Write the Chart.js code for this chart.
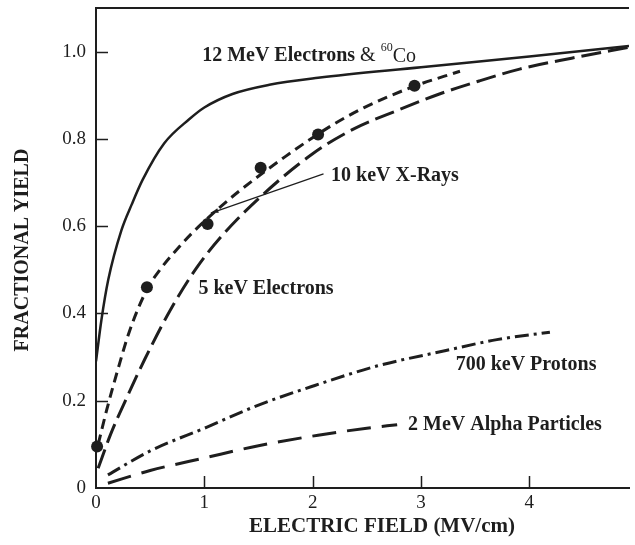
<!DOCTYPE html>
<html>
<head>
<meta charset="utf-8">
<script src="https://cdn.jsdelivr.net/npm/chart.js@4/dist/chart.umd.min.js"></script>
<style>
  html, body { margin: 0; padding: 0; background: #fff; }
  #wrap { width: 635px; height: 545px; }
</style>
</head>
<body>
<div id="wrap"><canvas id="chart" width="635" height="545"></canvas></div>
<script>
// ---- Data ----

const xTicks = [0, 1, 2, 3, 4];
const yTicks = [0, 0.2, 0.4, 0.6, 0.8, 1.0];
const yTickLabels = ['0', '0.2', '0.4', '0.6', '0.8', '1.0'];

// 12 MeV Electrons & 60Co (solid)
const e12X = [0, 0.05, 0.113, 0.235, 0.33, 0.43, 0.63, 0.86, 1.0, 1.26, 1.6, 2.05, 3.0, 4.0, 4.92];
const e12Y = [0.29, 0.385, 0.477, 0.591, 0.65, 0.706, 0.79, 0.845, 0.872, 0.903, 0.924, 0.94, 0.964, 0.989, 1.013];

// 10 keV X-Rays (short dashes)
const xrX = [0.02, 0.1, 0.2, 0.31, 0.47, 0.59, 0.74, 0.89, 1.07, 1.32, 1.75, 2.17, 2.47, 2.93, 3.36];
const xrY = [0.1, 0.18, 0.27, 0.36, 0.455, 0.5, 0.545, 0.585, 0.627, 0.68, 0.76, 0.83, 0.871, 0.92, 0.955];

// 10 keV X-Rays measured points
const xrDotX = [0.01, 0.47, 1.03, 1.52, 2.05, 2.94];
const xrDotY = [0.095, 0.46, 0.605, 0.734, 0.81, 0.922];

// 5 keV Electrons (long dashes)
const e5X = [0.02, 0.13, 0.28, 0.45, 0.68, 0.93, 1.17, 1.53, 2.0, 2.38, 2.77, 3.17, 3.54, 3.91, 4.39, 4.92];
const e5Y = [0.045, 0.12, 0.205, 0.295, 0.405, 0.505, 0.58, 0.67, 0.766, 0.823, 0.864, 0.903, 0.933, 0.96, 0.985, 1.01];

// 700 keV Protons (dash-dot)
const pX = [0.11, 0.5, 1.02, 1.5, 2.02, 2.6, 3.23, 3.7, 4.19];
const pY = [0.03, 0.085, 0.139, 0.19, 0.235, 0.28, 0.315, 0.34, 0.357];

// 2 MeV Alpha Particles (long dashes, wide gaps)
const aX = [0.11, 0.5, 1.02, 1.5, 2.05, 2.5, 2.78];
const aY = [0.011, 0.04, 0.07, 0.097, 0.121, 0.137, 0.145];

// ---- Helpers ----

const INK = '#1e1e1e';
const SERIF = '"Liberation Serif", "DejaVu Serif", serif';

function pts(xs, ys) { return xs.map((x, i) => ({ x, y: ys[i] })); }

function curve(data, dash, width) {
  return {
    data, showLine: true, borderColor: INK, borderWidth: width, borderDash: dash,
    pointRadius: 0, cubicInterpolationMode: 'monotone', fill: false,
  };
}

// Labels placed in data coordinates (left edge, vertical centre)
const curveLabels = [
  { text: '5 keV Electrons', x: 0.945, y: 0.457 },
  { text: '10 keV X-Rays', x: 2.17, y: 0.715 },
  { text: '700 keV Protons', x: 3.32, y: 0.283 },
  { text: '2 MeV Alpha Particles', x: 2.88, y: 0.144 },
];

const decorations = {
  id: 'decorations',
  afterDraw(chart) {
    const { ctx, chartArea: a, scales: { x, y } } = chart;
    ctx.save();
    ctx.strokeStyle = INK;
    ctx.fillStyle = INK;

    // top frame line
    ctx.lineWidth = 2;
    ctx.beginPath();
    ctx.moveTo(a.left - 1, a.top);
    ctx.lineTo(a.right, a.top);
    ctx.stroke();

    // inward tick marks
    ctx.lineWidth = 1.5;
    ctx.beginPath();
    yTicks.forEach(v => {
      if (v === 0) return;
      const py = Math.round(y.getPixelForValue(v)) + 0.5;
      ctx.moveTo(a.left, py);
      ctx.lineTo(a.left + 12, py);
    });
    xTicks.forEach(v => {
      if (v === 0) return;
      const px = Math.round(x.getPixelForValue(v)) + 0.5;
      ctx.moveTo(px, a.bottom);
      ctx.lineTo(px, a.bottom - 12);
    });
    ctx.stroke();

    // curve labels
    ctx.textBaseline = 'middle';
    ctx.textAlign = 'left';
    ctx.font = `bold 20px ${SERIF}`;
    curveLabels.forEach(l => {
      ctx.fillText(l.text, x.getPixelForValue(l.x), y.getPixelForValue(l.y));
    });

    // 12 MeV Electrons & 60Co, with superscript
    let lx = x.getPixelForValue(0.98);
    const ly = y.getPixelForValue(0.99);
    const head = '12 MeV Electrons ';
    ctx.fillText(head, lx, ly);
    lx += ctx.measureText(head).width;
    ctx.font = `20px ${SERIF}`;
    ctx.fillText('& ', lx, ly);
    lx += ctx.measureText('& ').width;
    ctx.font = `12px ${SERIF}`;
    ctx.fillText('60', lx, ly - 8);
    lx += ctx.measureText('60').width;
    ctx.font = `20px ${SERIF}`;
    ctx.fillText('Co', lx, ly + 1);

    // pointer from the X-ray label to its curve
    const x0 = x.getPixelForValue(2.1), y0 = y.getPixelForValue(0.72);
    const x1 = x.getPixelForValue(1.06), y1 = y.getPixelForValue(0.63);
    ctx.lineWidth = 1.2;
    ctx.beginPath();
    ctx.moveTo(x0, y0);
    ctx.lineTo(x1, y1);
    ctx.stroke();
    const ang = Math.atan2(y1 - y0, x1 - x0);
    ctx.beginPath();
    ctx.moveTo(x1, y1);
    ctx.lineTo(x1 - 8 * Math.cos(ang - 0.3), y1 - 8 * Math.sin(ang - 0.3));
    ctx.lineTo(x1 - 8 * Math.cos(ang + 0.3), y1 - 8 * Math.sin(ang + 0.3));
    ctx.closePath();
    ctx.fill();

    // axis titles
    ctx.font = `bold 21px ${SERIF}`;
    ctx.textAlign = 'center';
    ctx.fillText('ELECTRIC FIELD (MV/cm)', 382, 527);
    ctx.save();
    ctx.translate(23, 250);
    ctx.rotate(-Math.PI / 2);
    ctx.font = `bold 20px ${SERIF}`;
    ctx.fillText('FRACTIONAL YIELD', 0, 0);
    ctx.restore();

    ctx.restore();
  },
};

function zeroPad(scale) {
  scale.paddingTop = 0;
  scale.paddingBottom = 0;
  scale.paddingLeft = 0;
  scale.paddingRight = 0;
}

new Chart(document.getElementById('chart'), {
  type: 'scatter',
  data: {
    datasets: [
      curve(pts(e12X, e12Y), [], 2.5),
      curve(pts(xrX, xrY), [10, 6], 3),
      curve(pts(e5X, e5Y), [20, 7], 3),
      curve(pts(pX, pY), [14, 5, 3, 5], 3),
      curve(pts(aX, aY), [24, 11], 3),
      {
        data: pts(xrDotX, xrDotY), showLine: false, clip: false,
        pointRadius: 6, pointBackgroundColor: INK, pointBorderColor: INK, pointBorderWidth: 0,
      },
    ],
  },
  options: {
    responsive: false,
    animation: false,
    events: [],
    layout: { padding: { top: 8, right: 2, left: 0, bottom: 0 } },
    plugins: { legend: { display: false }, tooltip: { enabled: false } },
    scales: {
      x: {
        type: 'linear', min: 0, max: 4.92,
        afterBuildTicks: s => { s.ticks = xTicks.map(v => ({ value: v })); },
        afterFit: s => { s.height = 57; zeroPad(s); },
        grid: { display: false, drawTicks: false },
        border: { display: true, color: INK, width: 2 },
        ticks: {
          color: INK, padding: 4, maxRotation: 0, autoSkip: false,
          font: { family: SERIF, size: 19 },
          callback: v => String(v),
        },
      },
      y: {
        type: 'linear', min: 0, max: 1.1,
        afterBuildTicks: s => { s.ticks = yTicks.map(v => ({ value: v })); },
        afterFit: s => { s.width = 96; zeroPad(s); },
        grid: { display: false, drawTicks: false },
        border: { display: true, color: INK, width: 2 },
        ticks: {
          color: INK, padding: 10, autoSkip: false,
          font: { family: SERIF, size: 19 },
          callback: v => yTickLabels[yTicks.indexOf(v)] ?? '',
        },
      },
    },
  },
  plugins: [decorations],
});
</script>
</body>
</html>
